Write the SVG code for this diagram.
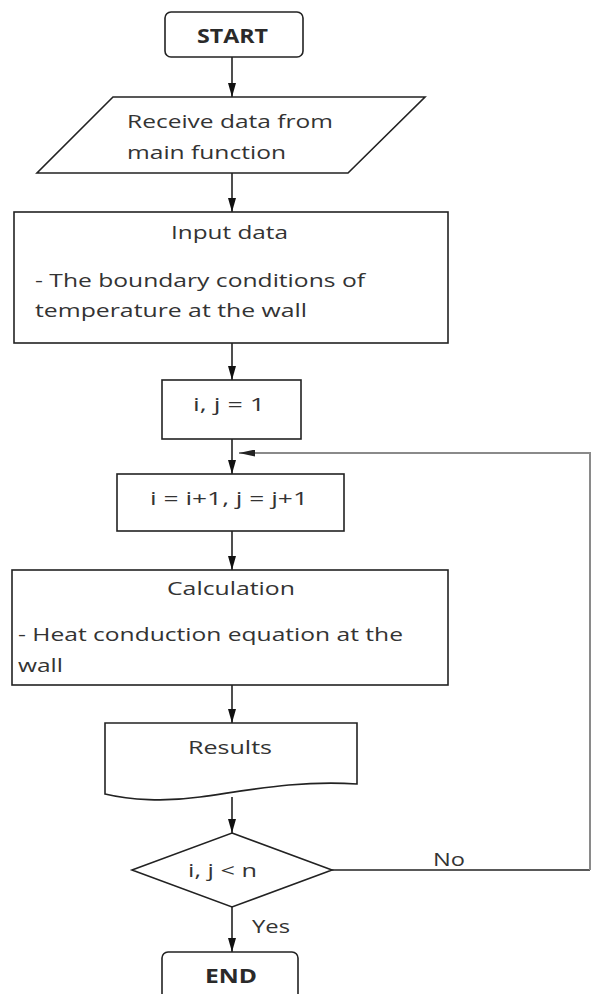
<svg xmlns="http://www.w3.org/2000/svg" width="594" height="994" viewBox="0 0 594 994">
<defs>
<marker id="ah" markerUnits="userSpaceOnUse" markerWidth="14" markerHeight="8" refX="14" refY="4" viewBox="0 0 14 8" orient="auto">
<path d="M0,0 L14,4 L0,8 Z" fill="#111"/>
</marker>
<marker id="ahg" markerUnits="userSpaceOnUse" markerWidth="16" markerHeight="7" refX="16" refY="3.5" viewBox="0 0 16 7" orient="auto">
<path d="M0,0 L16,3.5 L0,7 Z" fill="#222"/>
</marker>
</defs>
<style>
.box{fill:#fff;stroke:#222;stroke-width:1.6}
.t{font-family:"Open Sans","DejaVu Sans",sans-serif;font-size:19px;fill:#333}
.b{font-family:"Open Sans","DejaVu Sans",sans-serif;font-size:19px;font-weight:bold;fill:#2a2a2a}
.c{fill:none;stroke:#222;stroke-width:1.6}
.g{fill:none;stroke:#8a8a8a;stroke-width:2}
</style>
<rect width="594" height="994" fill="#fff"/>
<g id="connectors">
<line class="c" x1="232" y1="57" x2="232" y2="97" marker-end="url(#ah)"/>
<line class="c" x1="232" y1="173" x2="232" y2="212" marker-end="url(#ah)"/>
<line class="c" x1="232" y1="343" x2="232" y2="380" marker-end="url(#ah)"/>
<line class="c" x1="232" y1="439" x2="232" y2="474" marker-end="url(#ah)"/>
<line class="c" x1="232" y1="531" x2="232" y2="570" marker-end="url(#ah)"/>
<line class="c" x1="232" y1="685" x2="232" y2="723" marker-end="url(#ah)"/>
<line class="c" x1="232" y1="797" x2="232" y2="833" marker-end="url(#ah)"/>
<line class="c" x1="232" y1="907" x2="232" y2="952" marker-end="url(#ah)"/>
<line class="c" x1="332" y1="870" x2="590" y2="870"/>
<polyline class="g" points="590,870 590,453 239,453" marker-end="url(#ahg)"/>
<text class="t" x="433" y="866" textLength="32" lengthAdjust="spacingAndGlyphs">No</text>
<text class="t" x="252" y="933" textLength="38" lengthAdjust="spacingAndGlyphs">Yes</text>
</g>
<g id="start">
<rect class="box" x="165" y="12" width="138" height="45" rx="6"/>
<text class="b" x="197" y="43" textLength="71" lengthAdjust="spacingAndGlyphs">START</text>
</g>
<g id="receive">
<polygon class="box" points="113,97 425,97 348,173 37,173"/>
<text class="t" x="127" y="128" textLength="206" lengthAdjust="spacingAndGlyphs">Receive data from</text>
<text class="t" x="127" y="159" textLength="159" lengthAdjust="spacingAndGlyphs">main function</text>
</g>
<g id="input">
<rect class="box" x="14" y="212" width="434" height="131"/>
<text class="t" x="171" y="239" textLength="117" lengthAdjust="spacingAndGlyphs">Input data</text>
<text class="t" x="35" y="287" textLength="330" lengthAdjust="spacingAndGlyphs">- The boundary conditions of</text>
<text class="t" x="35" y="317" textLength="272" lengthAdjust="spacingAndGlyphs">temperature at the wall</text>
</g>
<g id="init">
<rect class="box" x="162" y="380" width="139" height="59"/>
<text class="t" x="193" y="411" textLength="72" lengthAdjust="spacingAndGlyphs">i, j = 1</text>
</g>
<g id="increment">
<rect class="box" x="117" y="474" width="227" height="57"/>
<text class="t" x="150" y="505" textLength="158" lengthAdjust="spacingAndGlyphs">i = i+1, j = j+1</text>
</g>
<g id="calculation">
<rect class="box" x="12" y="570" width="436" height="115"/>
<text class="t" x="167" y="595" textLength="128" lengthAdjust="spacingAndGlyphs">Calculation</text>
<text class="t" x="18" y="641" textLength="385" lengthAdjust="spacingAndGlyphs">- Heat conduction equation at the</text>
<text class="t" x="18" y="672" textLength="45" lengthAdjust="spacingAndGlyphs">wall</text>
</g>
<g id="results">
<path class="box" d="M105,723 H357 V784 C300,780 250,790 200,797 C165,802 130,800 105,794 Z"/>
<text class="t" x="188" y="754" textLength="84" lengthAdjust="spacingAndGlyphs">Results</text>
</g>
<g id="decision">
<polygon class="box" points="232,833 332,870 232,907 132,870"/>
<text class="t" x="188" y="877" textLength="69" lengthAdjust="spacingAndGlyphs">i, j &lt; n</text>
</g>
<g id="end">
<rect class="box" x="162" y="952" width="136" height="60" rx="6"/>
<text class="b" x="205" y="983" textLength="52" lengthAdjust="spacingAndGlyphs">END</text>
</g>
</svg>
